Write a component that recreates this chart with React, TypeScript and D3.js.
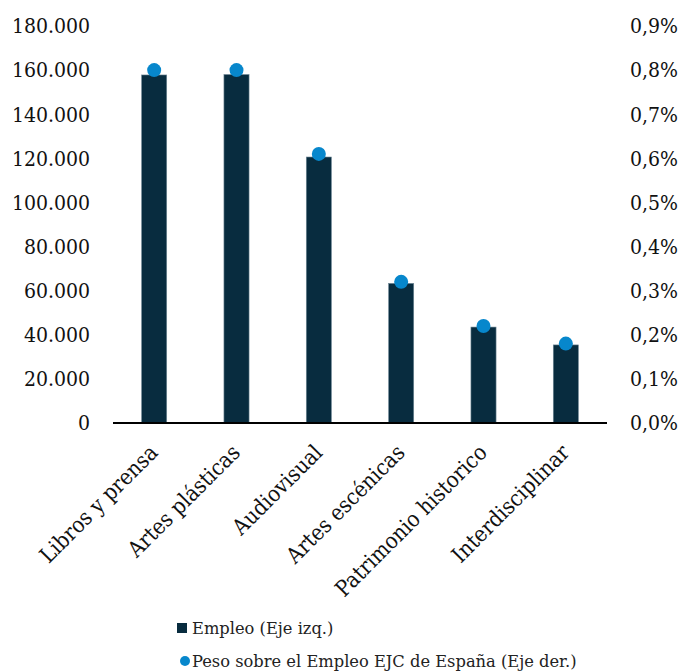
import React from 'react';
import * as d3 from 'd3';

const categories = [
  'Libros y prensa',
  'Artes plásticas',
  'Audiovisual',
  'Artes escénicas',
  'Patrimonio historico',
  'Interdisciplinar',
];
// Empleo (Eje izq.)
const employment = [157800, 158000, 120600, 63300, 43500, 35400];
// Peso sobre el Empleo EJC de España (Eje der.), in %
const share = [0.8, 0.8, 0.61, 0.32, 0.22, 0.18];
const leftTicks = [0, 20000, 40000, 60000, 80000, 100000, 120000, 140000, 160000, 180000];
const rightTicks = [0, 0.1, 0.2, 0.3, 0.4, 0.5, 0.6, 0.7, 0.8, 0.9];

const W = 698;
const H = 671;
const FONT = "'DejaVu Serif Condensed', 'DejaVu Serif', serif";
const BAR = '#082c3f';
const DOT = '#0787cc';

const App: React.FC = () => {
  const x = d3.scaleBand<string>()
    .domain(categories)
    .range([113, 607])
    .paddingInner(0.695)
    .paddingOuter(0.3475);
  const yL = d3.scaleLinear().domain([0, 180000]).range([423, 26]);
  const yR = d3.scaleLinear().domain([0, 0.9]).range([423, 26]);

  const fmtL = (v: number) => d3.format(',')(v).replace(/,/g, '.');
  const fmtR = (v: number) => v.toFixed(1).replace('.', ',') + '%';

  return (
    <svg
      width={W}
      height={H}
      style={{ position: 'absolute', left: 0, top: 0, fontFamily: FONT, fontStretch: 'condensed' }}
    >
      <rect width={W} height={H} fill="#fff" />

      {/* left axis labels */}
      {leftTicks.map(t => (
        <text key={'l' + t} x={90} y={yL(t)} dy="0.35em" textAnchor="end" fontSize={21} fill="#111">
          {fmtL(t)}
        </text>
      ))}

      {/* right axis labels */}
      {rightTicks.map(t => (
        <text key={'r' + t} x={630} y={yR(t)} dy="0.35em" textAnchor="start" fontSize={21} fill="#111">
          {fmtR(t)}
        </text>
      ))}

      {/* bars */}
      {categories.map((c, i) => (
        <rect
          key={c}
          x={x(c)}
          y={yL(employment[i])}
          width={x.bandwidth()}
          height={yL(0) - yL(employment[i])}
          fill={BAR}
          stroke="#6f8796"
          strokeWidth={0.6}
        />
      ))}

      {/* baseline */}
      <line x1={113} x2={607} y1={yL(0)} y2={yL(0)} stroke="#000" strokeWidth={2} />

      {/* dots */}
      {categories.map((c, i) => (
        <circle
          key={'d' + c}
          cx={(x(c) || 0) + x.bandwidth() / 2}
          cy={yR(share[i])}
          r={7}
          fill={DOT}
        />
      ))}

      {/* category labels */}
      {categories.map(c => {
        const cx = (x(c) || 0) + x.bandwidth() / 2;
        return (
          <text
            key={'t' + c}
            transform={`translate(${cx - 6}, 443) rotate(-45)`}
            textAnchor="end"
            dy="0.7em"
            fontSize={22}
            fill="#111"
          >
            {c}
          </text>
        );
      })}

      {/* legend */}
      <rect x={177} y={623} width={10} height={10} fill={BAR} />
      <text x={192} y={628} dy="0.35em" fontSize={16.3} fill="#222" style={{ fontFamily: "'DejaVu Serif', serif", fontStretch: 'normal' }}>
        Empleo (Eje izq.)
      </text>
      <circle cx={185} cy={661} r={5} fill={DOT} />
      <text x={192} y={661} dy="0.35em" fontSize={16.3} fill="#222" style={{ fontFamily: "'DejaVu Serif', serif", fontStretch: 'normal' }}>
        Peso sobre el Empleo EJC de España (Eje der.)
      </text>
    </svg>
  );
};

export default App;
